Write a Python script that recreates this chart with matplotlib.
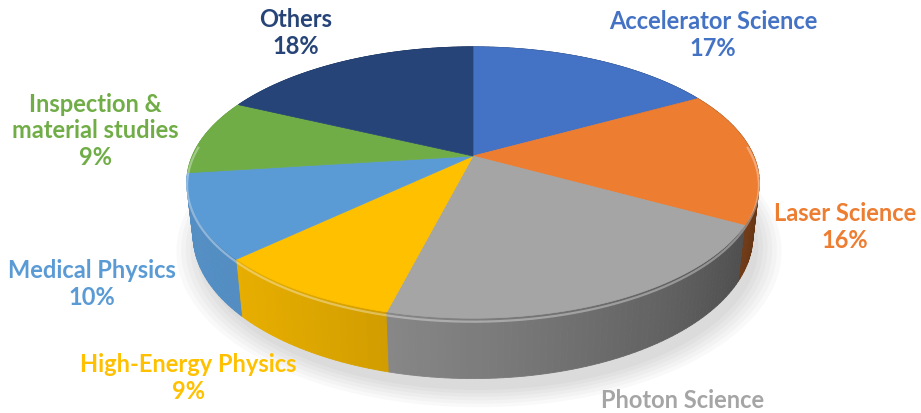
import numpy as np
import matplotlib.pyplot as plt
from matplotlib.patches import Polygon
from matplotlib.colors import to_rgb

# data (clockwise from 12 o'clock)
labels = ['Accelerator Science', 'Laser Science', 'Photon Science', 'High-Energy Physics',
          'Medical Physics', 'Inspection &\nmaterial studies', 'Others']
shares = [17, 16, 21, 9, 10, 9, 18]
colors = ['#4472C4', '#ED7D31', '#A5A5A5', '#FFC000', '#5B9BD5', '#70AD47', '#264478']

# label centres (pixels)
label_pos = [(713, 35), (845, 227), (683, 414), (188, 378), (92, 284), (95, 131), (296, 33)]

# perspective view of a tilted disc
phi = np.radians(27.7)
s, c = np.sin(phi), np.cos(phi)
D, f, H = 4.53, 1272.0, 0.215
cx, cy = 473.0, 156.0


def project(theta, z, r=1.0):
    X = r * np.cos(theta)
    Y = r * np.sin(theta)
    v = Y * s + z * c
    w = Y * c - z * s
    return cx + f * X / (D + w), cy - f * v / (D + w), w


def shade(col, theta):
    k = 0.64 + 0.28 * np.cos(theta - np.radians(205))
    return tuple(np.clip(np.array(to_rgb(col)) * k, 0, 1))


plt.rcParams['font.family'] = ['Lato', 'DejaVu Sans']
fig = plt.figure(figsize=(9.21, 4.13), dpi=100)
ax = fig.add_axes([0, 0, 1, 1])
ax.set_xlim(0, 921)
ax.set_ylim(413, 0)
ax.axis('off')

fracs = np.array(shares, dtype=float) / sum(shares)
bounds = np.radians(90 - 360 * np.concatenate([[0], np.cumsum(fracs)]))

# soft shadow under the disc
t = np.linspace(0, 2 * np.pi, 200)
for sc in np.linspace(1.08, 1.0, 6):
    x, y, _ = project(t, -H - 0.02, sc)
    ax.fill(x + 6, y + 6, color='#000000', alpha=0.025, lw=0)

# side walls, far pieces first
quads = []
for i in range(len(shares)):
    th = np.linspace(bounds[i], bounds[i + 1], max(4, int(shares[i] * 3)))
    for a, b in zip(th[:-1], th[1:]):
        xa, ya, wa = project(a, 0)
        xb, yb, wb = project(b, 0)
        xa2, ya2, _ = project(a, -H)
        xb2, yb2, _ = project(b, -H)
        quads.append(((wa + wb) / 2, [(xa, ya), (xb, yb), (xb2, yb2), (xa2, ya2)],
                      shade(colors[i], (a + b) / 2)))
quads.sort(key=lambda q: -q[0])
for _, pts, col in quads:
    ax.add_patch(Polygon(pts, closed=True, fc=col, ec=col, lw=0.6))

# top faces
for i in range(len(shares)):
    th = np.linspace(bounds[i], bounds[i + 1], 80)
    x, y, _ = project(th, 0)
    pts = [(cx, cy)] + list(zip(x, y))
    ax.add_patch(Polygon(pts, closed=True, fc=colors[i], ec=colors[i], lw=0.5))

# light bevel along the front rim
th = np.linspace(np.radians(175), np.radians(365), 200)
x, y, _ = project(th, -0.012)
ax.plot(x, y, color='white', alpha=0.35, lw=1.6)

for lab, val, col, (lx, ly) in zip(labels, shares, colors, label_pos):
    ax.text(lx, ly, '%s\n%d%%' % (lab, val), color=col, fontsize=17, fontweight='bold',
            ha='center', va='center', linespacing=1.2)

fig.savefig('out.png', dpi=100)
